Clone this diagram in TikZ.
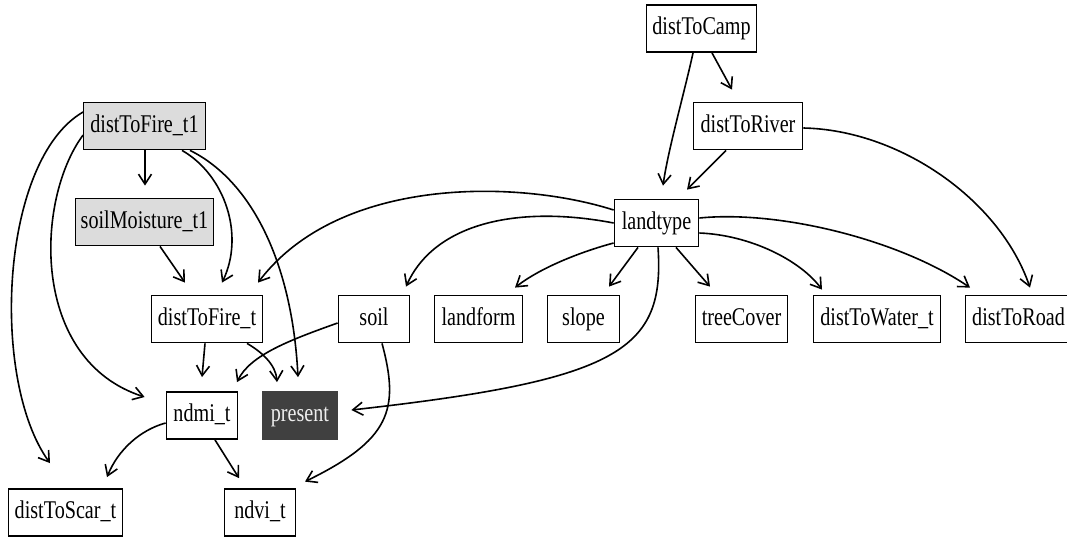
\documentclass[tikz,border=0pt]{standalone}
\usepackage{fontspec}
\setmainfont{Liberation Serif}
\newfontfamily\labelfont[FakeStretch=0.79]{Liberation Serif}
\usetikzlibrary{arrows.meta,calc}
\definecolor{obsgrey}{HTML}{DCDCDC}
\definecolor{targetfill}{HTML}{404040}
\definecolor{targettext}{HTML}{EEEEEE}
\begin{document}
\begin{tikzpicture}[x=1pt,y=-1pt,
  var/.style={draw, line width=1.8pt, inner sep=0pt, minimum height=47pt,
    text height=17pt, text depth=5pt,
    font=\labelfont\fontsize{25.5}{28}\selectfont},
  obs/.style={var, fill=obsgrey},
  target/.style={var, draw=targetfill, fill=targetfill, text=targettext},
  edge/.style={line width=1.6pt, -{Straight Barb[length=10pt,width=13pt,line width=1.6pt]}}]
\useasboundingbox (0,0) rectangle (1067,539);

% variables
\node[var, minimum width=110pt] (dtc)  at (701.5,28.5) {distToCamp};
\node[var, minimum width=109pt] (drv)  at (748,126)    {distToRiver};
\node[var, minimum width=84pt]  (lt)   at (656.5,223)  {landtype};
\node[obs, minimum width=122pt] (dtf1) at (144.5,126)  {distToFire\_t1};
\node[obs, minimum width=138pt] (sm1)  at (144.5,222)  {soilMoisture\_t1};
\node[var, minimum width=111pt] (dtf)  at (207,319)    {distToFire\_t};
\node[var, minimum width=71pt]  (soil) at (374,319)    {soil};
\node[var, minimum width=88pt]  (lf)   at (478.5,319)  {landform};
\node[var, minimum width=72pt]  (slp)  at (583.5,319)  {slope};
\node[var, minimum width=92pt]  (tc)   at (741.5,319)  {treeCover};
\node[var, minimum width=127pt] (dtw)  at (877,319)    {distToWater\_t};
\node[var, minimum width=106pt] (dtr)  at (1018.5,319) {distToRoad};
\node[var, minimum width=71pt]  (ndmi) at (202,415.5)  {ndmi\_t};
\node[target, minimum width=75pt] (pres) at (300,415.5) {present};
\node[var, minimum width=114pt] (dts)  at (65.5,512.5) {distToScar\_t};
\node[var, minimum width=71pt]  (ndvi) at (260,512.5)  {ndvi\_t};

% distToFire_t1 and its children
\draw[edge] ($(dtf1.south)+(0.5,0)$) -- ($(sm1.north)+(0.5,-12)$);
\draw[edge] ($(dtf1.south)+(37.5,0)$) .. controls (225,175) and (245,235) .. ($(dtf.north)+(15,-12)$);
\draw[edge] ($(dtf1.south)+(45.5,0)$) .. controls (250,180) and (292,260) .. ($(pres.north)+(-2,-14)$);
\draw[edge] ($(dtf1.west)+(0.5,9)$) .. controls (35,200) and (30,360) .. ($(ndmi.west)+(-21,-18.5)$);
\draw[edge] ($(dtf1.west)+(0.5,-14)$) .. controls (0,160) and (-10,380) .. ($(dts.north)+(-15.5,-25)$);
\draw[edge] ($(sm1.south)+(15.5,0)$) -- ($(dtf.north)+(-22,-12)$);

% distToFire_t, soil, ndmi_t
\draw[edge] ($(dtf.south)+(-2,0)$) -- ($(ndmi.north)+(0,-14)$);
\draw[edge] ($(dtf.south)+(40,0)$) .. controls (262,352) and (276,365) .. ($(pres.north)+(-23,-9)$);
\draw[edge] ($(soil.west)+(0,4)$) .. controls (290,340) and (250,355) .. ($(ndmi.north)+(35,-9)$);
\draw[edge] ($(soil.south)+(8,0)$) .. controls (400,410) and (390,440) .. ($(ndvi.north)+(45,-6.5)$);
\draw[edge] ($(ndmi.west)+(0,7.5)$) .. controls (140,430) and (118,450) .. ($(dts.north)+(41.5,-11)$);
\draw[edge] ($(ndmi.south)+(13,0)$) -- ($(ndvi.north)+(-21,-10)$);

% landtype and its children
\draw[edge] ($(lt.west)+(0,-13)$) .. controls (520,180) and (340,175) .. ($(dtf.north)+(51,-12)$);
\draw[edge] ($(lt.south)+(1.5,0)$) .. controls (665,350) and (620,380) .. ($(pres.east)+(13,-5.5)$);
\draw[edge] (lt.west) .. controls (520,205) and (435,222) .. ($(soil.north)+(32,-8)$);
\draw[edge] ($(lt.west)+(0,20)$) .. controls (580,252) and (540,268) .. ($(lf.north)+(36.5,-7)$);
\draw[edge] ($(lt.south)+(-18.5,0)$) -- ($(slp.north)+(25.5,-8)$);
\draw[edge] ($(lt.south)+(19.5,0)$) -- ($(tc.north)+(-31.5,-8)$);
\draw[edge] ($(lt.east)+(0,10)$) .. controls (750,235) and (800,260) .. ($(dtw.north)+(-55,-5)$);
\draw[edge] ($(lt.east)+(0,-5)$) .. controls (780,210) and (900,240) .. ($(dtr.north)+(-48.5,-7)$);

% distToCamp and distToRiver
\draw[edge] ($(dtc.south)+(-8.5,0)$) .. controls (685,90) and (668,150) .. ($(lt.north)+(6.5,-13)$);
\draw[edge] ($(dtc.south)+(10.5,0)$) -- ($(drv.north)+(-16,-12)$);
\draw[edge] ($(drv.south)+(-22,0)$) -- ($(lt.north)+(30.5,-9)$);
\draw[edge] ($(drv.east)+(0,2)$) .. controls (900,130) and (1000,200) .. ($(dtr.north)+(11.5,-7)$);
\end{tikzpicture}
\end{document}
